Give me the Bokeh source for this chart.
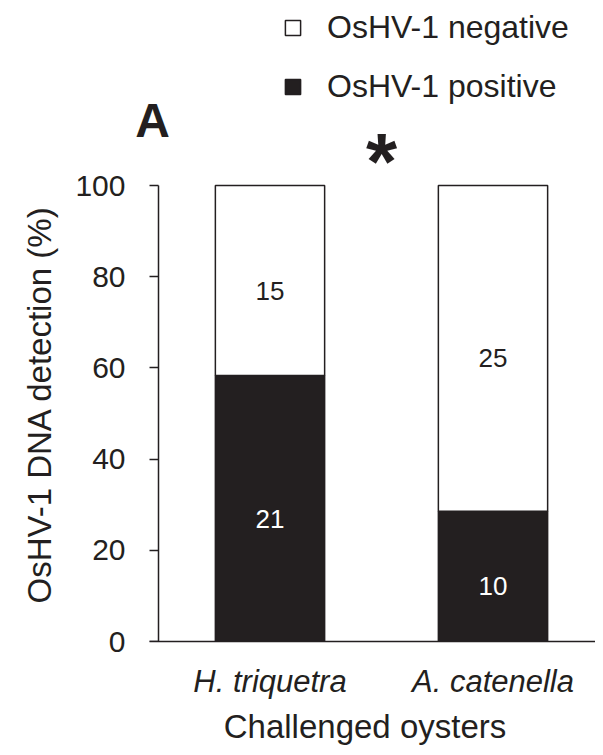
from bokeh.plotting import figure
from bokeh.models import FixedTicker, Label, Legend, LegendItem, ColumnDataSource, LinearAxis, Title
from bokeh.core.properties import value
from bokeh.embed import file_html
from bokeh.resources import INLINE

# ---- data ----
species = ["H. triquetra", "A. catenella"]
positive_counts = [21, 10]
negative_counts = [15, 25]
y_ticks = [0, 20, 40, 60, 80, 100]
legend_labels = ["OsHV-1 negative", "OsHV-1 positive"]
y_title = "OsHV-1 DNA detection (%)"
x_title = "Challenged oysters"
panel_letter = "A"
signif_mark = "*"

totals = [p + n for p, n in zip(positive_counts, negative_counts)]
pos_pct = [100.0 * p / t for p, t in zip(positive_counts, totals)]
neg_pct = [100.0 * n / t for n, t in zip(negative_counts, totals)]
xpos = [i + 0.5 for i in range(len(species))]

INK = "#231f20"
FONT = "Liberation Sans"

# layout geometry (pixels)
left_border = 134
axis_px = 158          # where x = 0 sits
unit_px = 223          # pixels per category
fig_w = 595
frame_h = 641
px_per_pct = 4.56

x_start = -(axis_px - left_border) / unit_px
x_end = (fig_w - axis_px) / unit_px
y_end = frame_h / px_per_pct

p = figure(frame_width=fig_w - left_border, frame_height=frame_h,
           x_range=(x_start, x_end), y_range=(0, y_end),
           output_backend="svg", toolbar_location=None,
           min_border_left=left_border, min_border_right=0, min_border_top=0,
           min_border_bottom=100)
p.outline_line_color = None
p.grid.visible = False
p.background_fill_color = "white"

src = ColumnDataSource(dict(x=xpos, pos=pos_pct, neg=neg_pct,
                            pos_n=[str(v) for v in positive_counts],
                            neg_n=[str(v) for v in negative_counts],
                            pos_mid=[v / 2 for v in pos_pct],
                            neg_mid=[a + b / 2 for a, b in zip(pos_pct, neg_pct)]))

r_pos, r_neg = p.vbar_stack(["pos", "neg"], x="x", width=0.49, source=src,
                            fill_color=[INK, "white"], line_color=INK, line_width=1.5)

p.text(x="x", y="pos_mid", text="pos_n", source=src, text_align="center",
       text_baseline="middle", text_color="white", text_font=value(FONT),
       text_font_size="26px", y_offset=10)
p.text(x="x", y="neg_mid", text="neg_n", source=src, text_align="center",
       text_baseline="middle", text_color=INK, text_font=value(FONT),
       text_font_size="26px", y_offset=10)

# y axis: tick labels (no line/ticks) in the left panel
ya = p.yaxis[0]
ya.ticker = FixedTicker(ticks=y_ticks)
ya.axis_line_color = None
ya.major_tick_line_color = None
ya.minor_tick_line_color = None
ya.major_tick_in = 0
ya.major_tick_out = 0
ya.major_label_standoff = 9
ya.major_label_text_font = FONT
ya.major_label_text_color = INK
ya.major_label_text_font_size = "30px"

# y axis line + ticks at x = 0
ya2 = LinearAxis(ticker=FixedTicker(ticks=y_ticks), bounds=(0, 100), fixed_location=0,
                 major_label_overrides={t: "" for t in y_ticks},
                 major_label_text_alpha=0, minor_tick_line_color=None,
                 major_tick_in=0, major_tick_out=9, major_label_standoff=0,
                 axis_line_color=INK, axis_line_width=1.5,
                 major_tick_line_color=INK, major_tick_line_width=1.5)
p.add_layout(ya2, "left")

# y axis title, aligned to the 0-100 part of the axis
p.add_layout(Title(text=y_title, align="left", offset=38, standoff=29,
                   text_font=FONT, text_font_size="33px", text_font_style="normal",
                   text_color=INK), "left")

xa = p.xaxis[0]
xa.ticker = FixedTicker(ticks=xpos)
xa.major_label_overrides = {x: s for x, s in zip(xpos, species)}
xa.bounds = (-0.04, x_end)
xa.minor_tick_line_color = None
xa.major_tick_in = 0
xa.major_tick_out = 0
xa.major_label_standoff = 22
xa.major_label_text_font_style = "italic"
xa.major_label_text_font = FONT
xa.major_label_text_color = INK
xa.major_label_text_font_size = "31px"
xa.axis_line_color = INK
xa.axis_line_width = 1.5
xa.axis_label = x_title
xa.axis_label_standoff = 6
xa.axis_label_text_font = FONT
xa.axis_label_text_color = INK
xa.axis_label_text_font_size = "33px"
xa.axis_label_text_font_style = "normal"

# legend
legend = Legend(items=[LegendItem(label=legend_labels[0], renderers=[r_neg]),
                       LegendItem(label=legend_labels[1], renderers=[r_pos])],
                location=(283 - left_border, 536), glyph_width=19, glyph_height=19,
                label_text_font=FONT, label_text_font_size="32px",
                label_text_color=INK, label_standoff=25, spacing=22,
                padding=0, margin=0, border_line_color=None,
                background_fill_alpha=0, label_height=36)
p.add_layout(legend)

p.add_layout(Label(x=-0.027, y=114.2, text=panel_letter, text_font=FONT,
                   text_font_size="48px", text_font_style="bold",
                   text_color=INK, text_align="center", text_baseline="alphabetic"))
p.add_layout(Label(x=1.0, y=105.3, text=signif_mark, text_font=FONT,
                   text_font_size="80px", text_font_style="bold",
                   text_color=INK, text_align="center", text_baseline="alphabetic"))

open("out.html", "w").write(file_html(p, INLINE))
